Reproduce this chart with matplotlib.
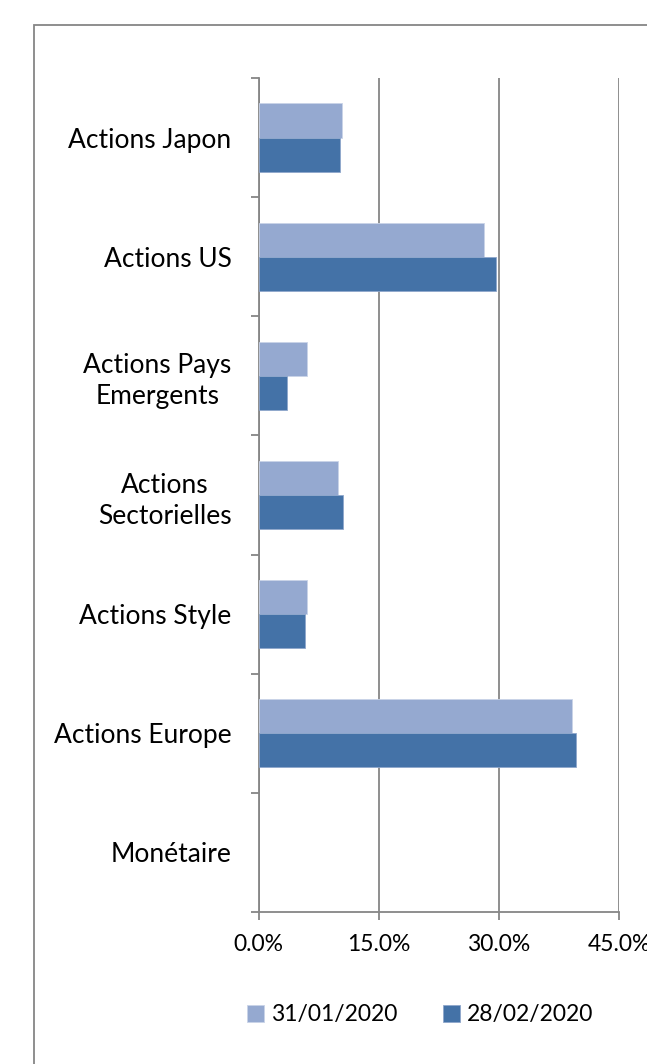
import numpy as np
import matplotlib.pyplot as plt
from matplotlib.patches import Rectangle

# data
categories = ['Actions Japon', 'Actions US', 'Actions Pays\nEmergents',
              'Actions\nSectorielles', 'Actions Style', 'Actions Europe',
              'Monétaire']
jan_2020 = [10.4, 28.2, 6.0, 9.9, 6.0, 39.1, 0.0]
feb_2020 = [10.2, 29.7, 3.6, 10.6, 5.8, 39.6, 0.0]
series_labels = ['31/01/2020', '28/02/2020']
x_ticks = [0, 15, 30, 45]

light = '#95a9d0'
dark = '#4472a7'
grey = '#868686'

plt.rcParams['font.family'] = ['Lato', 'DejaVu Sans']

fig = plt.figure(figsize=(6.47, 10.64), dpi=100)
ax = fig.add_axes([258.5 / 647, 1 - 912 / 1064, (619 - 258.5) / 647, (912 - 78) / 1064])

# outer frame of the chart area (cut off on the right and bottom)
fig.patches.append(Rectangle((34 / 647, -0.1), 2, 1 - 25 / 1064 + 0.1,
                             transform=fig.transFigure, fill=False,
                             edgecolor=grey, linewidth=1.3))

y = np.arange(len(categories))
h = 0.286
lw_jan = [0.6 if v > 0 else 0 for v in jan_2020]
lw_feb = [0.6 if v > 0 else 0 for v in feb_2020]
ax.barh(y - h / 2, jan_2020, height=h, color=light, edgecolor='#c9d3e8',
        linewidth=lw_jan, label=series_labels[0], zorder=3)
ax.barh(y + h / 2, feb_2020, height=h, color=dark, edgecolor='#8fa7cc',
        linewidth=lw_feb, label=series_labels[1], zorder=3)

ax.set_ylim(len(categories) - 0.5, -0.5)
ax.set_xlim(0, 45)
ax.set_xticks(x_ticks)
ax.set_xticklabels([f'{v:.1f}%' for v in x_ticks])
ax.set_yticks(y)
ax.set_yticklabels(categories, multialignment='center', linespacing=1.3)
ax.set_yticks(np.arange(-0.5, len(categories)), minor=True)

ax.tick_params(axis='y', which='major', length=0, pad=19.5, labelsize=19)
ax.tick_params(axis='y', which='minor', length=6, width=1.3, color=grey)
ax.tick_params(axis='x', which='major', length=6, width=1.3, color=grey,
               pad=10, labelsize=16.5)

ax.grid(axis='x', color=grey, linewidth=1.3, zorder=1)
for s in ['top', 'right']:
    ax.spines[s].set_visible(False)
for s in ['left', 'bottom']:
    ax.spines[s].set_color(grey)
    ax.spines[s].set_linewidth(1.3)

fig.legend(loc='center', bbox_to_anchor=(420 / 647, 1 - 1015 / 1064), ncol=2,
           frameon=False, fontsize=16.5, handlelength=0.75, handleheight=0.75,
           handletextpad=0.3, columnspacing=2.0)

fig.savefig('out.png', dpi=100)
